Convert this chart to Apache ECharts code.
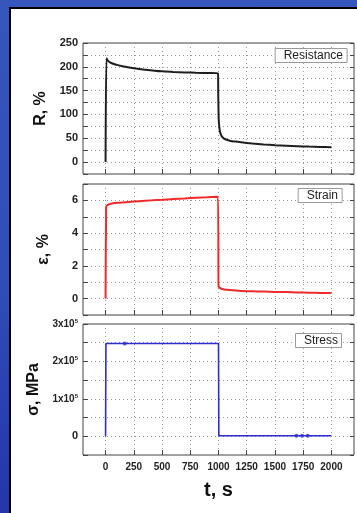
<!DOCTYPE html>
<html><head><meta charset="utf-8">
<script src="https://cdn.jsdelivr.net/npm/echarts@6/dist/echarts.min.js"></script>
<style>
html,body{margin:0;padding:0;width:357px;height:513px;overflow:hidden;}
body{background:linear-gradient(180deg,#3556bd 0%,#2f4db7 55%,#2436aa 100%);}
#panel{position:absolute;left:9px;top:7px;right:0;bottom:0;background:#fff;border-left:2px solid #000;border-top:2px solid #000;}
#chart{position:absolute;left:0;top:0;width:357px;height:513px;}
</style></head>
<body>
<div id="panel"></div>
<div id="chart"></div>
<script>
// ---- data ----
const xTicks = [0, 250, 500, 750, 1000, 1250, 1500, 1750, 2000];
const resT = [0, 8, 20, 50, 100, 150, 250, 350, 500, 600, 700, 800, 900, 995, 998, 1002, 1008, 1015, 1025, 1040, 1060, 1100, 1150, 1200, 1300, 1400, 1500, 1600, 1700, 1800, 1900, 2000];
const resR = [0, 218, 213, 208, 204, 201, 197, 194, 190.5, 189.3, 188.3, 187.5, 187, 186.5, 140, 90, 72, 62, 56, 51, 48, 45, 43, 41.5, 39, 37, 35.5, 34.5, 33.5, 32.5, 31.8, 31];
const strainT = [0, 5, 15, 40, 100, 200, 300, 400, 500, 600, 700, 800, 900, 995, 1000, 1005, 1020, 1050, 1100, 1200, 1300, 1400, 1500, 1600, 1700, 1800, 1900, 2000];
const strainE = [0, 5.6, 5.7, 5.78, 5.85, 5.9, 5.95, 6.0, 6.04, 6.08, 6.12, 6.16, 6.19, 6.22, 0.8, 0.7, 0.62, 0.56, 0.52, 0.47, 0.45, 0.43, 0.41, 0.4, 0.38, 0.36, 0.35, 0.35];
const stressT = [0, 3, 1000, 1003, 2000];
const stressS = [0, 248000, 248000, 1500, 1500];
const stressDotT = [170, 1690, 1740, 1790];
const stressDotS = [248000, 1500, 1500, 1500];
const rLabels = [0, 50, 100, 150, 200, 250];
const eLabels = [0, 2, 4, 6];
const sLabels = [0, 100000, 200000, 300000];

const zip = (a, b) => a.map((v, i) => [v, b[i]]);
const FONT = "'Liberation Sans', Arial, sans-serif";
const frame = '#444';
const gridLine = { show: true, lineStyle: { color: '#9a9a9a', type: [1, 3], width: 1 } };

const grids = [
  { left: 83, right: 3, top: 43, height: 131 },
  { left: 83, right: 3, top: 184, height: 131 },
  { left: 83, right: 3, top: 324, height: 131 }
];
grids.forEach(g => { g.show = true; g.borderColor = frame; g.borderWidth = 1; g.backgroundColor = 'transparent'; });

function xAx(i, withLabels) {
  return {
    type: 'value', gridIndex: i, min: -200, max: 2200, position: 'bottom',
    axisLine: { show: false, onZero: false },
    axisTick: { show: true, inside: true, length: 5, customValues: xTicks, lineStyle: { color: frame } },
    axisLabel: { show: withLabels, customValues: xTicks, margin: 7, fontFamily: FONT, fontWeight: 'bold', fontSize: 10, color: '#222',
      formatter: v => String(v) },
    splitLine: gridLine,
    name: withLabels ? 't, s' : '', nameLocation: 'middle', nameGap: 25,
    nameTextStyle: { fontFamily: FONT, fontWeight: 'bold', fontSize: 20, color: '#111' }
  };
}
function yAx(i, min, max, interval, labels, fmt, name, gap) {
  return {
    type: 'value', gridIndex: i, min: min, max: max, interval: interval, position: 'left',
    axisLine: { show: false, onZero: false },
    axisTick: { show: true, inside: true, length: 5, lineStyle: { color: frame } },
    axisLabel: {
      margin: 5, fontFamily: FONT, fontWeight: 'bold', fontSize: 11, color: '#222',
      formatter: v => labels.indexOf(v) >= 0 ? fmt(v) : '',
      rich: {
        a: { fontFamily: FONT, fontWeight: 'bold', fontSize: 10, color: '#222' },
        s: { fontFamily: FONT, fontWeight: 'bold', fontSize: 6, color: '#222', padding: [0, 0, 6, 0] }
      }
    },
    splitLine: gridLine,
    name: name, nameLocation: 'middle', nameGap: gap, nameRotate: 90,
    nameTextStyle: { fontFamily: FONT, fontWeight: 'bold', fontSize: 16, color: '#111' }
  };
}
function yMirror(i, min, max, interval) {
  return {
    type: 'value', gridIndex: i, min: min, max: max, interval: interval, position: 'right',
    axisLine: { show: false, onZero: false }, axisLabel: { show: false }, splitLine: { show: false },
    axisTick: { show: true, inside: true, length: 4, lineStyle: { color: frame } }
  };
}

const boxStyle = { borderColor: '#9a9a9a', borderWidth: 1, backgroundColor: '#fff', padding: [2, 4, 1, 9],
  textStyle: { fontFamily: FONT, fontWeight: 'normal', fontSize: 12, color: '#222' } };

const option = {
  animation: false,
  title: [
    Object.assign({ text: 'Resistance', right: 10, top: 48 }, boxStyle),
    Object.assign({ text: 'Strain', right: 15, top: 188 }, boxStyle),
    Object.assign({ text: 'Stress', right: 15, top: 333 }, boxStyle)
  ],
  grid: grids,
  xAxis: [xAx(0, false), xAx(1, false), xAx(2, true)],
  yAxis: [
    yAx(0, -25, 250, 25, rLabels, v => String(v), 'R, %', 26),
    yAx(1, -1, 7, 1, eLabels, v => String(v), 'ε, %', 31),
    yAx(2, -50000, 300000, 50000, sLabels, v => v === 0 ? '0' : '{a|' + (v / 100000) + 'x10}{s|5}', 'σ, MPa', 36),
    yMirror(0, -25, 250, 25),
    yMirror(1, -1, 7, 1),
    yMirror(2, -50000, 300000, 50000)
  ],
  series: [
    { type: 'line', xAxisIndex: 0, yAxisIndex: 0, data: zip(resT, resR), symbol: 'none', smooth: 0.3,
      lineStyle: { color: '#1e1e1e', width: 2 } },
    { type: 'line', xAxisIndex: 1, yAxisIndex: 1, data: zip(strainT, strainE), symbol: 'none', smooth: 0.2,
      lineStyle: { color: '#ee2b2b', width: 2 } },
    { type: 'line', xAxisIndex: 2, yAxisIndex: 2, data: zip(stressT, stressS), symbol: 'none',
      lineStyle: { color: '#2d2dd2', width: 1.6 } },
    { type: 'scatter', xAxisIndex: 2, yAxisIndex: 2, data: zip(stressDotT, stressDotS), symbolSize: 4,
      itemStyle: { color: '#2d2dd2' } }
  ]
};
const chart = echarts.init(document.getElementById('chart'), null, { renderer: 'canvas' });
chart.setOption(option);
</script>
</body></html>
